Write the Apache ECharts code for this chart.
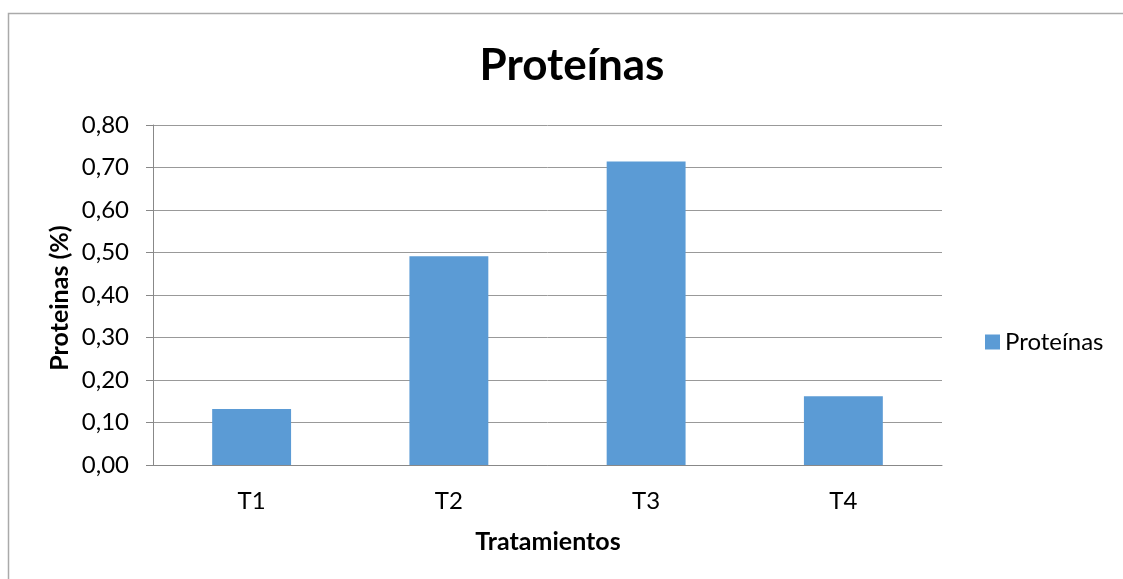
<!DOCTYPE html>
<html>
<head>
<meta charset="utf-8">
<script src="https://cdn.jsdelivr.net/npm/echarts@6/dist/echarts.min.js"></script>
<style>
  html, body { margin: 0; padding: 0; background: #fff; }
  #chart { width: 1123px; height: 579px; }
</style>
</head>
<body>
<div id="chart"></div>
<script>
// Protein content per treatment
const categories = ['T1', 'T2', 'T3', 'T4'];
const proteinValues = [0.132, 0.491, 0.714, 0.162];
const seriesName = 'Proteínas';
const yTicks = { min: 0, max: 0.8, interval: 0.1 };

const FONT = 'Lato';
const chart = echarts.init(document.getElementById('chart'));

chart.setOption({
  animation: false,
  backgroundColor: '#fff',
  title: {
    text: 'Proteínas',
    left: 567,
    top: 39,
    textAlign: 'center',
    textStyle: { fontFamily: FONT, fontWeight: 'bold', fontSize: 44, color: '#000' }
  },
  legend: {
    data: [seriesName],
    left: 980,
    top: 325,
    icon: 'rect',
    itemWidth: 15,
    itemHeight: 15,
    textStyle: { fontFamily: FONT, fontSize: 24, color: '#000' }
  },
  grid: { left: 153, right: 181, top: 125, bottom: 114, containLabel: false },
  xAxis: {
    type: 'category',
    data: categories,
    axisLine: { lineStyle: { color: '#888', width: 1 } },
    axisTick: { show: false },
    axisLabel: { fontFamily: FONT, fontSize: 24, color: '#000', margin: 24 }
  },
  yAxis: {
    type: 'value',
    min: yTicks.min,
    max: yTicks.max,
    interval: yTicks.interval,
    axisLine: { show: true, lineStyle: { color: '#888', width: 1 } },
    axisTick: { show: true, length: 7, lineStyle: { color: '#888' } },
    splitLine: { lineStyle: { color: '#999', width: 1 } },
    axisLabel: {
      fontFamily: FONT, fontSize: 24, color: '#000', margin: 24,
      formatter: v => v.toFixed(2).replace('.', ',')
    }
  },
  graphic: [
    {
      type: 'rect',
      shape: { x: 8.5, y: 13.5, width: 1200, height: 700 },
      style: { fill: 'none', stroke: '#aaa', lineWidth: 1.5 },
      silent: true
    },
    {
      type: 'text',
      x: 60, y: 298,
      rotation: Math.PI / 2,
      style: {
        text: 'Proteinas (%)', fontFamily: FONT, fontWeight: 'bold', fontSize: 25,
        fill: '#000', align: 'center', verticalAlign: 'middle'
      }
    },
    {
      type: 'text',
      x: 548, y: 542,
      style: {
        text: 'Tratamientos', fontFamily: FONT, fontWeight: 'bold', fontSize: 25,
        fill: '#000', align: 'center', verticalAlign: 'middle'
      }
    }
  ],
  series: [{
    name: seriesName,
    type: 'bar',
    data: proteinValues,
    barWidth: '40%',
    itemStyle: { color: '#5B9BD5' }
  }]
});
</script>
</body>
</html>
